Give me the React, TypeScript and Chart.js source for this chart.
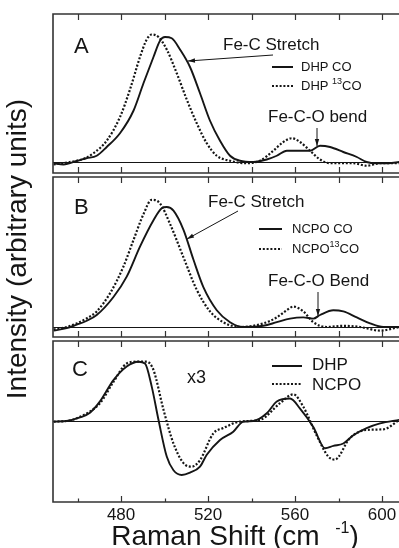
import React, { useEffect, useRef } from 'react';
import { Chart, registerables } from 'chart.js';

Chart.register(...registerables);

// ---------------- data ----------------
// Raman shift axis (cm-1)
const X_MIN = 448.7;
const X_MAX = 607.8;
const TICK_VALUES = [460, 480, 500, 520, 540, 560, 580, 600];
const TICK_LABELS = [480, 520, 560, 600];

// Panel A: DHP CO (solid) and DHP 13CO (dotted)
const aSolidX = [449, 453.5, 460, 464, 468.8, 473.4, 479.5, 485.7, 490.3, 494.9, 497.9, 500.2, 503.3, 507.1, 511.7, 516.3, 520.9, 525.5, 530.1, 534.7, 540.8, 547, 551.6, 556.2, 562.3, 566.9, 571.5, 576.1, 582.2, 588.4, 592.9, 597.5, 603, 608];
const aSolidY = [-1, -2, 1, 3, 5, 12, 23, 41, 63, 84, 97, 100, 99, 90, 76, 55, 33, 17, 5, 1, 0, 2, 5, 9, 9, 9, 13, 12, 8, 4, 0, -1, -1, 0];
const aDotX = [449, 453, 459.6, 463.5, 467.3, 473.4, 479.5, 484.1, 488.7, 491.8, 494.1, 497.2, 501, 505.6, 510.2, 514.8, 519.4, 524, 530.1, 537.8, 543.9, 550, 554.6, 558.5, 562.3, 566.9, 571.5, 576.1, 586.8, 592.9, 599.1, 608];
const aDotY = [-2, -1, 1, 3, 7, 17, 36, 58, 84, 98, 102, 100, 90, 71, 50, 31, 15, 5, 1, -1, 1, 9, 16, 19, 16, 9, 2, -1, -1, -3, -1, -1];

// Panel B: NCPO CO (solid) and NCPO 13CO (dotted)
const bSolidX = [449, 455, 459.6, 464, 468.8, 476.5, 482.6, 488.7, 494.9, 498.7, 501, 504.1, 508.7, 513.3, 517.9, 524, 530.1, 536.2, 545.4, 551.6, 557.7, 563.8, 568.4, 571.5, 577.6, 582.2, 588.4, 594.5, 600.6, 608];
const bSolidY = [-3, -1, 2, 5, 10, 25, 42, 67, 89, 99, 100, 97, 81, 56, 33, 14, 4, 0, 1, 4, 7, 8, 7, 10, 14, 13, 8, 3, 0, 0];
const bDotX = [449, 455, 459.6, 464, 468.8, 474.9, 481, 485.6, 490.3, 494.1, 497.9, 502.5, 508.7, 514.8, 520.9, 527, 534.7, 545.4, 551.6, 556.2, 559.2, 563.8, 568.4, 574.6, 582.2, 589.9, 599.1, 608];
const bDotY = [-2, 0, 3, 7, 13, 28, 50, 72, 94, 106, 103, 86, 58, 31, 13, 4, 0, 3, 8, 14, 17, 13, 4, 0, 1, 0, -3, 0];

// Panel C: difference spectra x3, DHP (solid) and NCPO (dotted)
const cSolidX = [449, 455, 461.1, 465.7, 470.3, 476.5, 482.6, 488, 491, 494.1, 497.2, 501, 504.1, 507.9, 511.7, 516.3, 519.4, 525.5, 531.6, 536.2, 540.8, 547, 551.6, 557.7, 562.3, 568.4, 573.8, 577.6, 582.2, 586.8, 592.9, 599.1, 608];
const cSolidY = [-1, 0, 6, 14, 33, 69, 92, 100, 97, 58, 2, -60, -83, -91, -87, -77, -57, -32, -18, -1, 0, 13, 33, 38, 21, -10, -46, -42, -38, -24, -12, -4, 2];
const cDotX = [449, 455, 461.1, 470.3, 476.5, 482.6, 487, 491.8, 494.9, 499.5, 504.1, 508.7, 512.5, 516.3, 522.4, 527, 534.7, 543.9, 553.1, 559.2, 563.8, 569.9, 575.3, 578.3, 585.2, 592.9, 600.6, 608];
const cDotY = [-1, 0, 7, 30, 66, 97, 100, 100, 86, 19, -38, -71, -77, -66, -21, -12, -1, 2, 30, 45, 24, -24, -60, -65, -29, -15, -14, 2];

// ---------------- styling ----------------
const W = 399;
const H = 548;
const FONT = '"Liberation Sans", Arial, Helvetica, sans-serif';
const INK = '#151515';
const FRAME = '#333333';
const LEFT = 53;

type Series = { xs: number[]; ys: number[]; dotted: boolean };
type Panel = {
  key: string;
  top: number;
  bottom: number;
  yMin: number;
  yMax: number;
  series: Series[];
  bottomLabels: boolean;
  extras: (ctx: CanvasRenderingContext2D, chart: any) => void;
};

function font(size: number) {
  return `${size}px ${FONT}`;
}

function text(ctx: CanvasRenderingContext2D, s: string, x: number, y: number, size: number, align: CanvasTextAlign = 'left') {
  ctx.save();
  ctx.font = font(size);
  ctx.fillStyle = INK;
  ctx.textAlign = align;
  ctx.textBaseline = 'alphabetic';
  ctx.fillText(s, x, y);
  ctx.restore();
}

// parts: [string, size, rise]
function richText(ctx: CanvasRenderingContext2D, parts: [string, number, number][], x: number, y: number) {
  ctx.save();
  ctx.fillStyle = INK;
  ctx.textAlign = 'left';
  ctx.textBaseline = 'alphabetic';
  let cx = x;
  for (const [s, size, rise] of parts) {
    ctx.font = font(size);
    ctx.fillText(s, cx, y - rise);
    cx += ctx.measureText(s).width;
  }
  ctx.restore();
}

function richWidth(ctx: CanvasRenderingContext2D, parts: [string, number, number][]) {
  ctx.save();
  let w = 0;
  for (const [s, size] of parts) {
    ctx.font = font(size);
    w += ctx.measureText(s).width;
  }
  ctx.restore();
  return w;
}

function arrow(ctx: CanvasRenderingContext2D, x1: number, y1: number, x2: number, y2: number) {
  ctx.save();
  ctx.strokeStyle = INK;
  ctx.fillStyle = INK;
  ctx.lineWidth = 1;
  ctx.beginPath();
  ctx.moveTo(x1, y1);
  ctx.lineTo(x2, y2);
  ctx.stroke();
  const a = Math.atan2(y2 - y1, x2 - x1);
  const L = 7;
  const hw = 2.2;
  ctx.beginPath();
  ctx.moveTo(x2, y2);
  ctx.lineTo(x2 - L * Math.cos(a) + hw * Math.sin(a), y2 - L * Math.sin(a) - hw * Math.cos(a));
  ctx.lineTo(x2 - L * Math.cos(a) - hw * Math.sin(a), y2 - L * Math.sin(a) + hw * Math.cos(a));
  ctx.closePath();
  ctx.fill();
  ctx.restore();
}

function sample(ctx: CanvasRenderingContext2D, x1: number, x2: number, y: number, dotted: boolean) {
  ctx.save();
  ctx.strokeStyle = INK;
  ctx.lineWidth = 2;
  ctx.lineCap = 'butt';
  if (dotted) ctx.setLineDash([2, 1.8]);
  ctx.beginPath();
  ctx.moveTo(x1, y);
  ctx.lineTo(x2, y);
  ctx.stroke();
  ctx.restore();
}

const panels: Panel[] = [
  {
    key: 'A',
    top: 14,
    bottom: 173,
    yMin: -8.8,
    yMax: 118.4,
    series: [
      { xs: aSolidX, ys: aSolidY, dotted: false },
      { xs: aDotX, ys: aDotY, dotted: true },
    ],
    bottomLabels: false,
    extras: (ctx) => {
      text(ctx, 'A', 74, 53, 22);
      text(ctx, 'Fe-C Stretch', 223, 50, 17);
      arrow(ctx, 273, 55, 188, 61);
      sample(ctx, 272, 293, 67, false);
      text(ctx, 'DHP CO', 301, 71, 13);
      sample(ctx, 272, 293, 86, true);
      richText(ctx, [['DHP ', 13, 0], ['13', 9, 6], ['CO', 13, 0]], 301, 90);
      text(ctx, 'Fe-C-O bend', 268, 122, 17);
      arrow(ctx, 317, 128, 317, 146);
    },
  },
  {
    key: 'B',
    top: 177,
    bottom: 337,
    yMin: -8.33,
    yMax: 125,
    series: [
      { xs: bSolidX, ys: bSolidY, dotted: false },
      { xs: bDotX, ys: bDotY, dotted: true },
    ],
    bottomLabels: false,
    extras: (ctx) => {
      text(ctx, 'B', 74, 214, 22);
      text(ctx, 'Fe-C Stretch', 208, 207, 17);
      arrow(ctx, 238, 211, 187, 239);
      sample(ctx, 259, 282, 229, false);
      text(ctx, 'NCPO CO', 292, 233, 13);
      sample(ctx, 259, 282, 249, true);
      richText(ctx, [['NCPO', 13, 0], ['13', 9, 6], ['CO', 13, 0]], 292, 253);
      text(ctx, 'Fe-C-O Bend', 268, 286, 17);
      arrow(ctx, 318, 292, 318, 316);
      // y axis title
      ctx.save();
      ctx.translate(18, 249);
      ctx.rotate(-Math.PI / 2);
      ctx.font = font(28);
      ctx.fillStyle = INK;
      ctx.textAlign = 'center';
      ctx.textBaseline = 'middle';
      ctx.fillText('Intensity (arbitrary units)', 0, 0);
      ctx.restore();
    },
  },
  {
    key: 'C',
    top: 341,
    bottom: 502,
    yMin: -136.6,
    yMax: 134.9,
    series: [
      { xs: cSolidX, ys: cSolidY, dotted: false },
      { xs: cDotX, ys: cDotY, dotted: true },
    ],
    bottomLabels: true,
    extras: (ctx, chart) => {
      text(ctx, 'C', 72, 376, 22);
      text(ctx, 'x3', 187, 383, 18);
      sample(ctx, 272, 302, 366, false);
      text(ctx, 'DHP', 312, 370, 17);
      sample(ctx, 272, 302, 384, true);
      text(ctx, 'NCPO', 312, 390, 17);
      const xs = chart.scales.x;
      for (const v of TICK_LABELS) {
        text(ctx, String(v), xs.getPixelForValue(v), 520, 17, 'center');
      }
      const parts: [string, number, number][] = [
        ['Raman Shift (cm  ', 28, 0],
        ['-1', 16, 12],
        [')', 28, 0],
      ];
      const w = richWidth(ctx, parts);
      richText(ctx, parts, 235 - w / 2, 545);
    },
  },
];

function makeConfig(p: Panel): any {
  const decor = {
    id: 'decor' + p.key,
    beforeDatasetsDraw(chart: any) {
      const ctx: CanvasRenderingContext2D = chart.ctx;
      const { left, right } = chart.chartArea;
      const y0 = chart.scales.y.getPixelForValue(0);
      ctx.save();
      ctx.strokeStyle = INK;
      ctx.lineWidth = 1;
      ctx.beginPath();
      ctx.moveTo(left, Math.round(y0) + 0.5);
      ctx.lineTo(right, Math.round(y0) + 0.5);
      ctx.stroke();
      ctx.restore();
    },
    afterDraw(chart: any) {
      const ctx: CanvasRenderingContext2D = chart.ctx;
      const { left, right, top, bottom } = chart.chartArea;
      ctx.save();
      ctx.strokeStyle = FRAME;
      ctx.lineWidth = 1.6;
      ctx.beginPath();
      ctx.moveTo(right, top);
      ctx.lineTo(left, top);
      ctx.lineTo(left, bottom);
      ctx.lineTo(right, bottom);
      ctx.stroke();
      ctx.lineWidth = 1.2;
      const xs = chart.scales.x;
      for (const v of TICK_VALUES) {
        const px = Math.round(xs.getPixelForValue(v)) + 0.5;
        const major = TICK_LABELS.includes(v);
        const bl = p.bottomLabels && !major ? 3.5 : 6;
        ctx.beginPath();
        ctx.moveTo(px, top);
        ctx.lineTo(px, top + 6);
        ctx.moveTo(px, bottom);
        ctx.lineTo(px, bottom - bl);
        ctx.stroke();
      }
      ctx.restore();
      p.extras(ctx, chart);
    },
  };

  return {
    type: 'line',
    data: {
      datasets: p.series.map((s) => ({
        data: s.xs.map((x, i) => ({ x, y: s.ys[i] })),
        borderColor: INK,
        borderWidth: s.dotted ? 2.2 : 1.9,
        borderDash: s.dotted ? [2, 1.8] : [],
        borderCapStyle: 'butt',
        pointRadius: 0,
        fill: false,
        cubicInterpolationMode: 'monotone',
      })),
    },
    options: {
      responsive: false,
      maintainAspectRatio: false,
      animation: false,
      events: [],
      layout: {
        padding: { left: LEFT, right: 0, top: p.top, bottom: H - p.bottom },
      },
      scales: {
        x: { type: 'linear', min: X_MIN, max: X_MAX, display: false },
        y: { type: 'linear', min: p.yMin, max: p.yMax, display: false },
      },
      plugins: {
        legend: { display: false },
        tooltip: { enabled: false },
      },
    },
    plugins: [decor],
  };
}

function PanelCanvas({ panel }: { panel: Panel }) {
  const ref = useRef<HTMLCanvasElement | null>(null);
  useEffect(() => {
    if (!ref.current) return;
    const chart = new Chart(ref.current, makeConfig(panel));
    return () => chart.destroy();
  }, [panel]);
  return (
    <canvas
      ref={ref}
      width={W}
      height={H}
      style={{ position: 'absolute', left: 0, top: 0, width: W, height: H }}
    />
  );
}

export default function App() {
  return (
    <div style={{ position: 'fixed', left: 0, top: 0, width: W, height: H, background: '#fff', overflow: 'hidden' }}>
      {panels.map((p) => (
        <PanelCanvas key={p.key} panel={p} />
      ))}
    </div>
  );
}
